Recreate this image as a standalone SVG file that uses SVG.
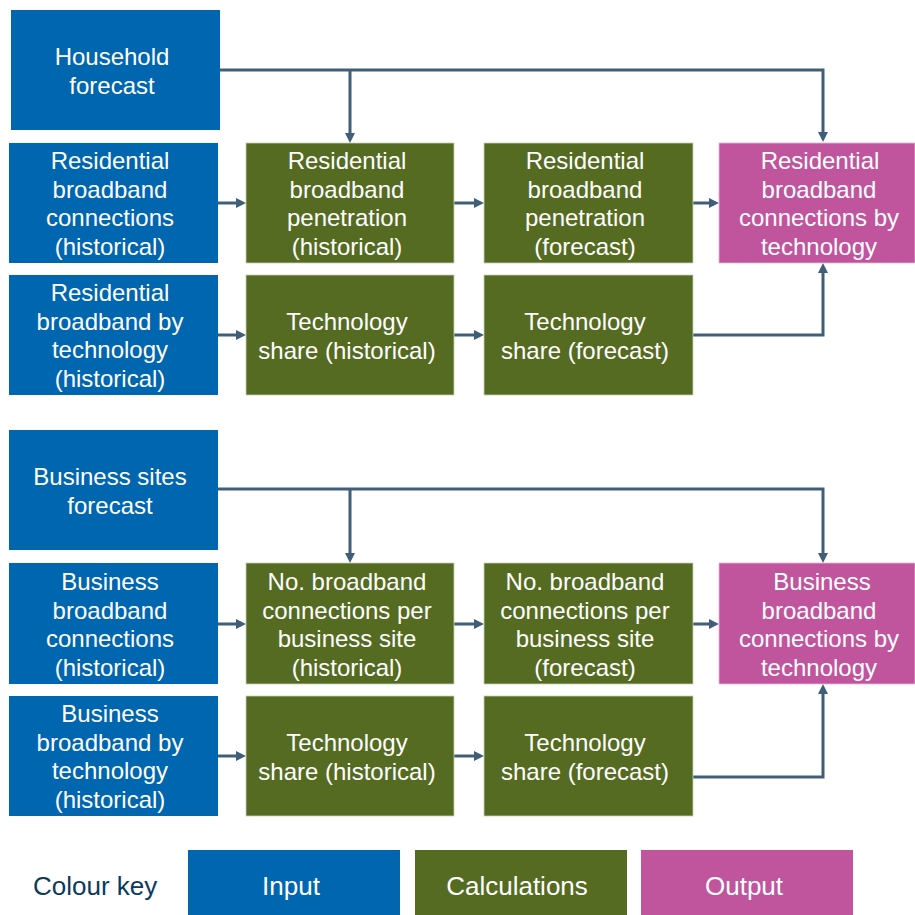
<svg xmlns="http://www.w3.org/2000/svg" width="915" height="915" viewBox="0 0 915 915">
<style>
.in{fill:#0066B0}
.calc{fill:#556B22;stroke:#C8D0B8;stroke-width:0.8}
.out{fill:#C0559E;stroke:#E8B8D8;stroke-width:0.8}
text{font-family:"Liberation Sans",Arial,sans-serif;font-size:24px;fill:#fff;text-anchor:middle}
.k{font-size:26px}
.key{fill:#0B3A5C;text-anchor:start}
.con{fill:none;stroke:#3F5F78;stroke-width:3}
</style>
<defs>
<marker id="ah" viewBox="0 0 10 10" refX="0" refY="5" markerWidth="10" markerHeight="11" markerUnits="userSpaceOnUse" orient="auto">
<path d="M0,0 L10,5 L0,10 z" fill="#3F5F78"/>
</marker>
</defs>
<rect width="915" height="915" fill="#fff"/>
<g id="connectors">
<path class="con" d="M220,70 H823 V132" marker-end="url(#ah)"/>
<path class="con" d="M350,70 V133" marker-end="url(#ah)"/>
<path class="con" d="M218,203 H236" marker-end="url(#ah)"/>
<path class="con" d="M454,203 H474" marker-end="url(#ah)"/>
<path class="con" d="M693,203 H709" marker-end="url(#ah)"/>
<path class="con" d="M218,335 H236" marker-end="url(#ah)"/>
<path class="con" d="M454,335 H474" marker-end="url(#ah)"/>
<path class="con" d="M693,335 H823 V273" marker-end="url(#ah)"/>
<path class="con" d="M218,489 H823 V553" marker-end="url(#ah)"/>
<path class="con" d="M350,489 V553" marker-end="url(#ah)"/>
<path class="con" d="M218,624 H236" marker-end="url(#ah)"/>
<path class="con" d="M454,624 H474" marker-end="url(#ah)"/>
<path class="con" d="M693,624 H709" marker-end="url(#ah)"/>
<path class="con" d="M218,756 H236" marker-end="url(#ah)"/>
<path class="con" d="M454,756 H474" marker-end="url(#ah)"/>
<path class="con" d="M693,777 H823 V694" marker-end="url(#ah)"/>
</g>
<g id="household">
<rect class="in" x="11" y="10" width="209" height="120"/>
<text x="112" y="65">Household</text>
<text x="112" y="94">forecast</text>
</g>
<g id="res-conn-hist">
<rect class="in" x="9" y="143" width="209" height="120"/>
<text x="110" y="169">Residential</text>
<text x="110" y="198">broadband</text>
<text x="110" y="226">connections</text>
<text x="110" y="255">(historical)</text>
</g>
<g id="res-tech-hist">
<rect class="in" x="9" y="275" width="209" height="120"/>
<text x="110" y="301">Residential</text>
<text x="110" y="330">broadband by</text>
<text x="110" y="358">technology</text>
<text x="110" y="387">(historical)</text>
</g>
<g id="res-pen-hist">
<rect class="calc" x="246" y="143" width="208" height="120"/>
<text x="347" y="169">Residential</text>
<text x="347" y="198">broadband</text>
<text x="347" y="226">penetration</text>
<text x="347" y="255">(historical)</text>
</g>
<g id="res-share-hist">
<rect class="calc" x="246" y="275" width="208" height="120"/>
<text x="347" y="330">Technology</text>
<text x="347" y="359">share (historical)</text>
</g>
<g id="res-pen-fc">
<rect class="calc" x="484" y="143" width="209" height="120"/>
<text x="585" y="169">Residential</text>
<text x="585" y="198">broadband</text>
<text x="585" y="226">penetration</text>
<text x="585" y="255">(forecast)</text>
</g>
<g id="res-share-fc">
<rect class="calc" x="484" y="275" width="209" height="120"/>
<text x="585" y="330">Technology</text>
<text x="585" y="359">share (forecast)</text>
</g>
<g id="res-out">
<rect class="out" x="719" y="143" width="196" height="120"/>
<text x="820" y="169">Residential</text>
<text x="819" y="198">broadband</text>
<text x="819" y="226">connections by</text>
<text x="819" y="255">technology</text>
</g>
<g id="business">
<rect class="in" x="9" y="430" width="209" height="120"/>
<text x="110" y="485">Business sites</text>
<text x="110" y="514">forecast</text>
</g>
<g id="bus-conn-hist">
<rect class="in" x="9" y="563" width="209" height="121"/>
<text x="110" y="590">Business</text>
<text x="110" y="619">broadband</text>
<text x="110" y="647">connections</text>
<text x="110" y="676">(historical)</text>
</g>
<g id="bus-tech-hist">
<rect class="in" x="9" y="696" width="209" height="120"/>
<text x="110" y="722">Business</text>
<text x="110" y="751">broadband by</text>
<text x="110" y="779">technology</text>
<text x="110" y="808">(historical)</text>
</g>
<g id="bus-per-hist">
<rect class="calc" x="246" y="563" width="208" height="121"/>
<text x="347" y="590">No. broadband</text>
<text x="347" y="619">connections per</text>
<text x="347" y="647">business site</text>
<text x="347" y="676">(historical)</text>
</g>
<g id="bus-share-hist">
<rect class="calc" x="246" y="696" width="208" height="120"/>
<text x="347" y="751">Technology</text>
<text x="347" y="780">share (historical)</text>
</g>
<g id="bus-per-fc">
<rect class="calc" x="484" y="563" width="209" height="121"/>
<text x="585" y="590">No. broadband</text>
<text x="585" y="619">connections per</text>
<text x="585" y="647">business site</text>
<text x="585" y="676">(forecast)</text>
</g>
<g id="bus-share-fc">
<rect class="calc" x="484" y="696" width="209" height="120"/>
<text x="585" y="751">Technology</text>
<text x="585" y="780">share (forecast)</text>
</g>
<g id="bus-out">
<rect class="out" x="719" y="563" width="196" height="121"/>
<text x="822" y="590">Business</text>
<text x="819" y="619">broadband</text>
<text x="819" y="647">connections by</text>
<text x="819" y="676">technology</text>
</g>
<g id="key">
<text class="key k" x="33" y="895">Colour key</text>
<rect class="in" x="188" y="850" width="212" height="65"/>
<text class="k" x="291" y="895">Input</text>
<rect fill="#556B22" x="415" y="850" width="212" height="65"/>
<text class="k" x="517" y="895">Calculations</text>
<rect fill="#C0559E" x="641" y="850" width="212" height="65"/>
<text class="k" x="744" y="895">Output</text>
</g>
</svg>
